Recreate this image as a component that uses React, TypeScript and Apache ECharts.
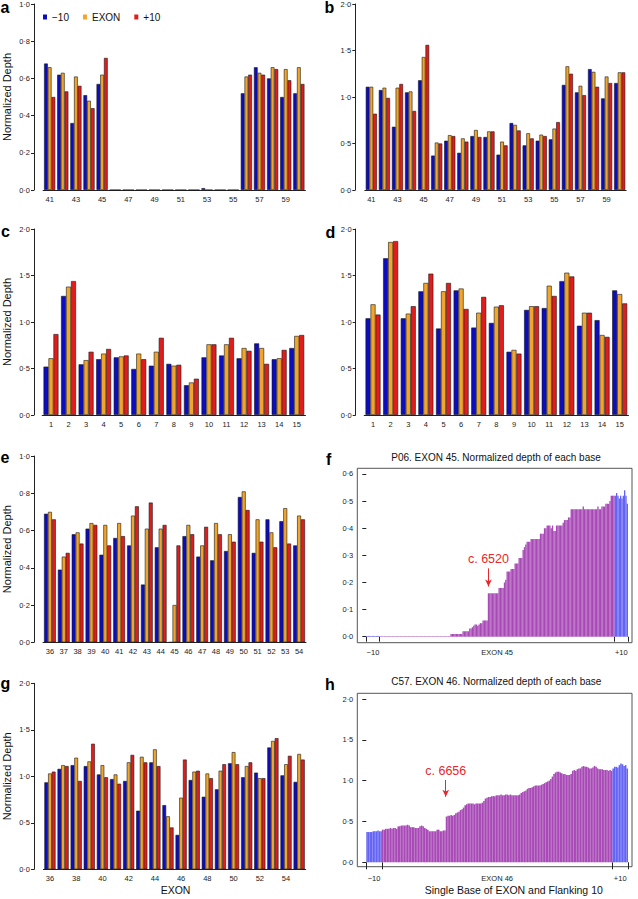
import React, { useEffect, useRef } from 'react';
import * as echarts from 'echarts';

const FONT = "'Liberation Sans Narrow', 'Liberation Sans', Arial, sans-serif";
const BOLD = "'Liberation Sans', Arial, sans-serif";

// ---------- legend / colours ----------
const legendNames = ['\u221210', 'EXON', '+10'];
const barColors = ['#0c0cc0', '#f2a52a', '#e01c1c'];
const FLANK = '#6464f4';
const EXONC = '#a84ab6';
const ARROWC = '#e8262b';

// ---------- panel a ----------
const aCats = ['41','42','43','44','45','46','47','48','49','50','51','52','53','54','55','56','57','58','59','60'];
const aMinus = [0.68,0.62,0.36,0.51,0.57,0,0,0,0,0,0,0,0.01,0,0,0.52,0.66,0.60,0.50,0.52];
const aExon  = [0.66,0.63,0.61,0.48,0.62,0,0,0,0,0,0,0,0,0,0,0.61,0.63,0.66,0.65,0.66];
const aPlus  = [0.50,0.53,0.56,0.44,0.71,0,0,0,0,0,0,0,0,0,0,0.62,0.62,0.65,0.59,0.57];

// ---------- panel b ----------
const bCats = aCats;
const bMinus = [1.11,1.075,0.68,1.05,1.18,0.37,0.53,0.40,0.58,0.57,0.38,0.72,0.48,0.53,0.545,1.13,1.05,1.30,0.985,1.15];
const bExon  = [1.11,1.10,1.10,1.06,1.43,0.51,0.59,0.555,0.645,0.63,0.52,0.70,0.61,0.595,0.66,1.33,1.12,1.27,1.22,1.265];
const bPlus  = [0.82,0.99,1.14,0.85,1.56,0.50,0.58,0.52,0.57,0.63,0.48,0.64,0.555,0.58,0.73,1.25,1.02,1.11,1.15,1.265];

// ---------- panel c ----------
const cCats = ['1','2','3','4','5','6','7','8','9','10','11','12','13','14','15'];
const cMinus = [0.52,1.28,0.545,0.60,0.62,0.495,0.53,0.55,0.32,0.62,0.64,0.61,0.77,0.60,0.72];
const cExon  = [0.61,1.38,0.59,0.66,0.63,0.66,0.68,0.53,0.35,0.76,0.76,0.72,0.72,0.61,0.85];
const cPlus  = [0.87,1.44,0.68,0.71,0.64,0.60,0.83,0.54,0.39,0.76,0.83,0.69,0.55,0.70,0.86];

// ---------- panel d ----------
const dCats = cCats;
const dMinus = [1.04,1.685,1.04,1.33,0.93,1.34,0.94,0.99,0.68,1.13,1.15,1.44,0.96,1.02,1.34];
const dExon  = [1.19,1.86,1.09,1.42,1.33,1.36,1.10,1.165,0.70,1.17,1.39,1.53,1.10,0.86,1.30];
const dPlus  = [1.08,1.87,1.17,1.52,1.42,1.14,1.27,1.18,0.66,1.17,1.28,1.49,1.10,0.84,1.20];

// ---------- panel e ----------
const eCats = ['36','37','38','39','40','41','42','43','44','45','46','47','48','49','50','51','52','53','54'];
const eMinus = [0.69,0.39,0.58,0.61,0.47,0.56,0.52,0.31,0.51,0,0.57,0.46,0.44,0.49,0.78,0.48,0.66,0.65,0.52];
const eExon  = [0.70,0.46,0.59,0.64,0.63,0.64,0.68,0.61,0.61,0.20,0.63,0.52,0.64,0.58,0.81,0.66,0.59,0.72,0.68];
const ePlus  = [0.66,0.48,0.53,0.63,0.52,0.57,0.73,0.75,0.63,0.52,0.58,0.62,0.58,0.54,0.71,0.54,0.51,0.53,0.66];

// ---------- panel g ----------
const gCats = ['36','37','38','39','40','41','42','43','44','45','46','47','48','49','50','51','52','53','54','55'];
const gMinus = [0.935,1.08,1.12,1.11,1.02,0.97,0.95,0.63,1.15,0.69,0.37,0.96,0.78,0.86,1.14,0.99,1.04,1.31,1.01,0.94];
const gExon  = [1.03,1.12,1.20,1.16,1.12,1.02,1.15,1.21,1.29,0.57,0.77,1.05,1.03,1.06,1.26,1.11,0.98,1.38,1.13,1.24];
const gPlus  = [1.05,1.11,0.95,1.35,0.99,0.92,1.23,1.15,1.11,0.45,1.18,1.06,0.98,1.13,1.13,1.15,0.98,1.41,1.22,1.18];

// ---------- panel f : per-base depth, P06 exon 45 (10 + 176 + 10 bases) ----------
const fDepth = [
  0.003,0.003,0.003,0.003,0.003,0.003,0.003,0.003,0.003,0.003,
  0.002,0.002,0.002,0.002,0.002,0.002,0.002,0.002,0.002,0.002,
  0.002,0.002,0.002,0.002,0.002,0.002,0.002,0.002,0.002,0.002,
  0.002,0.002,0.002,0.002,0.002,0.002,0.002,0.002,0.002,0.002,
  0.002,0.002,0.002,0.002,0.002,0.002,0.002,0.002,0.002,0.002,
  0.002,0.002,0.002,0.002,0.002,0.002,0.002,0.002,0.002,0.002,
  0.002,0.002,0.002,
  0.01,0.01,0.01,0.01,0.01,0.01,0.01,0.01,0.01,
  0.02,0.02,0.02,0.02,0.02,0.03,0.03,
  0.035,0.04,
  0.045,0.045,0.04,0.045,
  0.05,0.05,
  0.06,0.06,0.06,0.06,
  0.16,0.16,0.16,0.16,0.16,0.16,0.16,0.16,
  0.18,0.18,0.18,0.18,
  0.20,0.21,
  0.24,0.24,0.24,
  0.25,0.25,0.25,
  0.27,0.27,0.27,
  0.29,0.29,0.29,
  0.32,0.33,0.34,
  0.35,0.35,0.35,
  0.36,0.36,0.36,0.36,0.36,0.36,0.36,
  0.38,0.38,0.38,
  0.40,0.40,0.41,
  0.41,0.41,0.40,0.41,
  0.39,0.39,
  0.41,0.41,0.41,0.41,0.41,0.42,
  0.43,0.43,0.43,
  0.44,0.44,
  0.47,0.47,0.47,0.47,0.47,0.47,0.47,0.47,0.47,0.48,0.47,0.47,0.47,
  0.47,0.47,0.47,0.47,0.47,0.47,0.47,0.48,0.47,0.47,
  0.48,0.48,0.48,
  0.49,0.49,0.49,0.50,0.52,0.52,0.52,
  0.52,0.53,0.52,0.51,0.52,0.51,0.52,0.54,0.52,0.49,
];

// ---------- panel h : per-base depth, C57 exon 46 (10 + 148 + 10 bases) ----------
const hDepth = [
  0.37,0.37,0.37,0.37,0.38,0.38,0.38,0.39,0.38,0.38,
  0.40,0.40,
  0.41,0.41,0.41,0.42,0.41,0.42,0.42,0.41,
  0.44,0.44,0.45,0.45,0.45,0.45,0.46,0.45,
  0.43,0.43,0.43,
  0.42,0.42,0.42,
  0.44,0.45,0.44,
  0.42,0.41,0.40,
  0.38,0.38,0.38,0.38,0.38,
  0.40,0.40,
  0.38,0.38,0.39,0.39,
  0.56,0.57,0.57,
  0.58,0.57,0.58,
  0.60,0.61,0.62,
  0.64,0.65,0.67,
  0.70,0.71,0.72,0.72,
  0.72,0.72,0.71,0.72,0.72,0.72,0.72,0.73,0.75,
  0.78,0.79,0.80,0.80,
  0.81,0.81,0.81,
  0.82,0.82,0.82,0.83,0.82,0.82,0.83,0.83,0.82,0.83,0.82,0.82,0.82,0.82,0.82,0.83,
  0.85,0.86,
  0.87,0.88,0.90,
  0.91,0.91,0.92,0.93,
  0.94,0.94,0.94,0.94,0.95,
  0.96,0.97,
  0.98,0.99,1.00,1.02,
  1.05,1.08,
  1.10,1.11,1.11,1.10,
  1.09,1.08,1.08,
  1.07,1.07,1.07,1.08,
  1.12,1.13,1.12,
  1.14,1.15,1.15,
  1.17,1.18,1.17,1.17,1.16,1.15,
  1.15,1.16,1.18,
  1.17,1.15,1.14,
  1.14,1.14,1.13,
  1.13,1.13,1.12,1.13,1.12,
  1.15,1.17,1.17,1.16,1.19,1.21,1.20,1.18,1.19,1.15,
];

const FLANK_N = 10;

// ticks / labels of the per-base panels (positions in base units)
const fTickValues = [0, 10, 186, 196];
const fLabelValues = [5, 98, 191];
const fLabelTexts = ['\u221210', 'EXON 45', '+10'];
const hTickValues = [0, 10, 158, 168];
const hLabelValues = [5, 84, 163];
const hLabelTexts = ['\u221210', 'EXON 46', '+10'];
const fYTicks = [0, 0.1, 0.2, 0.3, 0.4, 0.5, 0.6];
const hYTicks = [0, 0.5, 1, 1.5, 2];

// arrow annotations: base position, start value, end value, text
const fArrow = { base: 91.5, from: 0.252, to: 0.185, text: 'c. 6520' };
const hArrow = { base: 51, from: 1.008, to: 0.803, text: 'c. 6656' };

const fmt = (v: number) => v.toFixed(1).replace('.', '\u00b7');

export default function App() {
  const ref = useRef<HTMLDivElement>(null);

  useEffect(() => {
    if (!ref.current) return;
    const chart = echarts.init(ref.current, undefined, { renderer: 'svg' });

    const grid: any[] = [];
    const xAxis: any[] = [];
    const yAxis: any[] = [];
    const series: any[] = [];
    const axisColor = '#222';

    const barPanel = (
      cats: string[], vals: number[][], max: number, interval: number, labelInterval: number,
      yName: boolean, layout: { left: number; top: number; width: number; height: number }, yOffset: number
    ) => {
      const gi = grid.length;
      grid.push({ ...layout });
      xAxis.push({
        type: 'category', gridIndex: gi, data: cats,
        axisLine: { lineStyle: { color: axisColor, width: 1 } },
        axisTick: { alignWithLabel: true, interval: 0, length: 3, lineStyle: { color: axisColor } },
        axisLabel: { interval: labelInterval, fontSize: 7.5, fontFamily: FONT, color: '#222', margin: 5 },
      });
      yAxis.push({
        type: 'value', gridIndex: gi, min: 0, max, interval, offset: yOffset,
        axisLine: { show: true, lineStyle: { color: axisColor } },
        axisTick: { show: true, length: 3, lineStyle: { color: axisColor } },
        axisLabel: { formatter: fmt, fontSize: 7.5, fontFamily: FONT, color: '#222', margin: 4 },
        splitLine: { show: false },
        name: yName ? 'Normalized Depth' : '', nameLocation: 'middle', nameGap: 22,
        nameTextStyle: { fontSize: 11, fontFamily: FONT, color: '#111' },
      });
      vals.forEach((v, k) => {
        series.push({
          type: 'bar', name: legendNames[k], xAxisIndex: gi, yAxisIndex: gi, data: v,
          barGap: '0%', barCategoryGap: '15%', silent: true,
          itemStyle: { color: barColors[k], borderColor: '#1a1a1a', borderWidth: 0.6 },
        });
      });
    };

    barPanel(aCats, [aMinus, aExon, aPlus], 1, 0.2, 1, true, { left: 41.4, top: 4, width: 264, height: 186 }, 9.1);
    barPanel(bCats, [bMinus, bExon, bPlus], 2, 0.5, 1, false, { left: 364.8, top: 4, width: 261.4, height: 186 }, 9.5);
    barPanel(cCats, [cMinus, cExon, cPlus], 2, 0.5, 0, true, { left: 40.5, top: 229, width: 265, height: 186 }, 8.2);
    barPanel(dCats, [dMinus, dExon, dPlus], 2, 0.5, 0, false, { left: 364.2, top: 229, width: 264.3, height: 186 }, 8.5);
    barPanel(eCats, [eMinus, eExon, ePlus], 1, 0.2, 0, true, { left: 41.3, top: 456, width: 264.7, height: 186.3 }, 9);
    barPanel(gCats, [gMinus, gExon, gPlus], 2, 0.5, 1, true, { left: 41.7, top: 683.3, width: 264, height: 186 }, 9.4);

    const basePanel = (
      depth: number[], xmin: number, xmax: number, ymin: number, ymax: number,
      ticks: number[], labVals: number[], labTexts: string[], yTicks: number[],
      arrow: { base: number; from: number; to: number; text: string },
      layout: { left: number; top: number; width: number; height: number }, name: string,
      tickLen: number, labMargin: number
    ) => {
      const gi = grid.length;
      const n = depth.length;
      grid.push({ ...layout, show: true, borderColor: '#555', borderWidth: 1, backgroundColor: 'transparent' });
      xAxis.push({
        type: 'value', gridIndex: gi, min: xmin, max: xmax,
        axisLine: { show: false }, splitLine: { show: false },
        axisTick: { show: true, customValues: ticks, length: tickLen, lineStyle: { color: axisColor } },
        axisLabel: {
          customValues: labVals, fontSize: 7.5, fontFamily: FONT, color: '#222', margin: labMargin,
          formatter: (v: number) => { const i = labVals.indexOf(v); return i >= 0 ? labTexts[i] : ''; },
        },
      });
      yAxis.push({
        type: 'value', gridIndex: gi, min: ymin, max: ymax,
        axisLine: { show: false }, splitLine: { show: false },
        axisTick: { show: true, customValues: yTicks, length: 4, lineStyle: { color: axisColor } },
        axisLabel: { customValues: yTicks, formatter: fmt, fontSize: 7.5, fontFamily: FONT, color: '#222', margin: 4 },
      });
      series.push({
        type: 'bar', name, xAxisIndex: gi, yAxisIndex: gi, silent: true,
        data: depth.map((v, i) => [i + 0.5, v]),
        barCategoryGap: '0%', barWidth: '100%',
        itemStyle: {
          color: (p: any) => (p.dataIndex < FLANK_N || p.dataIndex >= n - FLANK_N ? FLANK : EXONC),
        },
        markLine: {
          silent: true, symbol: ['none', 'arrow'], symbolSize: [5, 7],
          lineStyle: { color: ARROWC, width: 1, type: 'solid' },
          label: { show: true, position: 'start', formatter: arrow.text, color: ARROWC, fontSize: 12.5, fontFamily: FONT, distance: 3 },
          data: [[{ coord: [arrow.base, arrow.from] }, { coord: [arrow.base, arrow.to] }]],
        },
      });
    };

    basePanel(fDepth, -6.74, 199.0, -0.0221, 0.621, fTickValues, fLabelValues, fLabelTexts, fYTicks, fArrow,
      { left: 357.3, top: 468.3, width: 274.7, height: 174.4 }, 'f', 5, 6);
    basePanel(hDepth, -5.78, 170.57, -0.054, 2.07, hTickValues, hLabelValues, hLabelTexts, hYTicks, hArrow,
      { left: 357.3, top: 693.3, width: 274.7, height: 173.4 }, 'h', 7, 8);

    const letter = (t: string, x: number, y: number) => ({
      type: 'text', x, y, silent: true,
      style: { text: t, fontSize: 16, fontWeight: 'bold', fontFamily: BOLD, fill: '#000', verticalAlign: 'middle', align: 'left' },
    });
    const centered = (t: string, x: number, y: number, size: number) => ({
      type: 'text', x, y, silent: true,
      style: { text: t, fontSize: size, fontFamily: FONT, fill: '#111', verticalAlign: 'middle', align: 'center' },
    });

    const option: any = {
      animation: false,
      backgroundColor: '#fff',
      grid, xAxis, yAxis, series,
      legend: {
        data: legendNames, left: 38, top: 7, itemWidth: 4, itemHeight: 5, itemGap: 14, icon: 'rect',
        selectedMode: false, itemStyle: { borderWidth: 0 },
        textStyle: { fontSize: 10, fontFamily: FONT, color: '#111' },
      },
      graphic: [
        letter('a', 0.5, 7.7), letter('b', 324.5, 7.7), letter('c', 1, 231.7), letter('d', 325.5, 232.7),
        letter('e', 0.5, 457), letter('f', 326, 459.4), letter('g', 0.5, 683), letter('h', 325, 684.4),
        centered('P06. EXON 45. Normalized depth of each base', 496, 457, 10),
        centered('C57. EXON 46. Normalized depth of each base', 496.3, 681.7, 10),
        centered('EXON', 175.5, 890, 10.5),
        centered('Single Base of EXON and Flanking 10', 513.8, 890, 10.5),
      ],
    };
    chart.setOption(option);
    return () => chart.dispose();
  }, []);

  return <div ref={ref} style={{ position: 'absolute', left: 0, top: 0, width: 638, height: 899 }} />;
}
